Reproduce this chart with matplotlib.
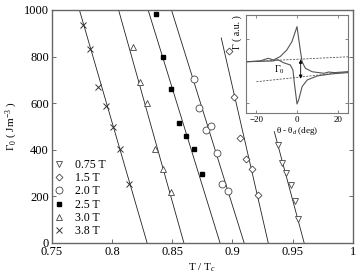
import matplotlib
matplotlib.use('Agg')
import matplotlib.pyplot as plt

plt.rcParams['font.family'] = 'Liberation Serif'
plt.rcParams['mathtext.fontset'] = 'custom'
plt.rcParams['mathtext.rm'] = 'Liberation Serif'
plt.rcParams['mathtext.it'] = 'Liberation Serif:italic'

# ---- data
fields = ['0.75 T', '1.5 T', '2.0 T', '2.5 T', '3.0 T', '3.8 T']
markers = ['v', 'D', 'o', 's', '^', 'x']
msizes = [4.2, 3.5, 5.0, 3.2, 4.2, 4.8]

t_075 = [0.9379, 0.9411, 0.9444, 0.9482, 0.9517, 0.9542]
g_075 = [421, 342, 299, 247, 180, 103]
t_15 = [0.8969, 0.9013, 0.9065, 0.9111, 0.9159, 0.9208]
g_15 = [825, 627, 451, 361, 316, 206]
t_20 = [0.8680, 0.8722, 0.8777, 0.8819, 0.8875, 0.8917, 0.8963]
g_20 = [704, 578, 483, 502, 388, 253, 223]
t_25 = [0.8367, 0.8425, 0.8492, 0.8555, 0.8617, 0.8680, 0.8747]
g_25 = [983, 797, 660, 517, 459, 402, 298]
t_30 = [0.8171, 0.8229, 0.8292, 0.8361, 0.8425, 0.8489]
g_30 = [840, 691, 602, 402, 319, 218]
t_38 = [0.7757, 0.7819, 0.7887, 0.7952, 0.8012, 0.8069, 0.8142]
g_38 = [936, 831, 670, 590, 497, 405, 252]

# fitted lines: T at the upper end, Gamma at the upper end, T where Gamma = 0
fit_t_top = [0.9347, 0.8907, 0.8494, 0.8300, 0.8055, 0.7730]
fit_g_top = [478, 880, 1000, 1000, 1000, 1000]
fit_t_zero = [0.9595, 0.9297, 0.9097, 0.8897, 0.8597, 0.8292]

# inset traces
up_x = [-24.8, -18.2, -14.1, -11.6, -8.3, -5.0, -2.5, 0.0, 1.6, 2.5, 4.1, 7.4, 13.2, 15.5, 18.2, 24.8]
up_y = [0.523, 0.531, 0.558, 0.541, 0.575, 0.643, 0.728, 0.881, 0.643, 0.523, 0.456, 0.421, 0.405, 0.418, 0.412, 0.421]
lo_x = [24.8, 16.5, 9.9, 5.0, 2.5, 0.8, 0.0, -1.3, -2.0, -3.3, -6.6, -9.5, -11.6, -24.8]
lo_y = [0.412, 0.398, 0.378, 0.337, 0.269, 0.133, 0.092, 0.303, 0.439, 0.490, 0.513, 0.545, 0.531, 0.523]
dash_hi_x = [-24.8, 25.6]
dash_hi_y = [0.523, 0.574]
dash_lo_x = [-19.9, 25.6]
dash_lo_y = [0.319, 0.421]

t_all = [t_075, t_15, t_20, t_25, t_30, t_38]
g_all = [g_075, g_15, g_20, g_25, g_30, g_38]

fig = plt.figure(figsize=(3.58, 2.76), dpi=100)
ax = fig.add_axes([0.1444, 0.1196, 0.8416, 0.8442])

for i in range(len(fields)):
    ax.plot([fit_t_top[i], fit_t_zero[i]], [fit_g_top[i], 0], color='#222222', lw=0.6)
    if markers[i] == 's':
        ax.plot(t_all[i], g_all[i], 's', ms=msizes[i], color='black', label=fields[i])
    elif markers[i] == 'x':
        ax.plot(t_all[i], g_all[i], 'x', ms=msizes[i], color='#333333', mew=0.7, label=fields[i])
    else:
        ax.plot(t_all[i], g_all[i], markers[i], ms=msizes[i], mfc='white',
                mec='#444444', mew=0.6, label=fields[i])

ax.set_xlim(0.75, 1.0)
ax.set_ylim(0, 1000)
ax.set_xticks([0.75, 0.8, 0.85, 0.9, 0.95, 1.0])
ax.set_xticklabels(['0.75', '0.8', '0.85', '0.9', '0.95', '1'])
ax.set_yticks([0, 200, 400, 600, 800, 1000])
ax.tick_params(direction='in', length=3, right=True, labelsize=9, pad=2,
               color='#555555', width=0.6)
for s in ax.spines.values():
    s.set_color('#666666')
    s.set_linewidth(1.0)
ax.set_xlabel('T / T$_c$', fontsize=8, labelpad=3)
ax.set_ylabel('Γ$_0$ ( Jm$^{-3}$ )', fontsize=8, labelpad=3)

ax.legend(loc='upper left', bbox_to_anchor=(0.008, 0.36), frameon=False,
          fontsize=8.5, handlelength=0.8, handletextpad=1.0, labelspacing=0.1,
          borderpad=0, borderaxespad=0)

# ---- inset
ins = fig.add_axes([0.6872, 0.5906, 0.2849, 0.3551])
ins.plot(up_x, up_y, color='#555555', lw=0.8)
ins.plot(lo_x, lo_y, color='#555555', lw=0.8)
ins.plot(dash_hi_x, dash_hi_y, '--', color='#555555', lw=0.6, dashes=(2.5, 1.5))
ins.plot(dash_lo_x, dash_lo_y, '--', color='#555555', lw=0.6, dashes=(2.5, 1.5))
ins.annotate('', xy=(1.8, 0.35), xytext=(1.8, 0.545),
             arrowprops=dict(arrowstyle='<|-|>', color='black', lw=0.6,
                             mutation_scale=5, shrinkA=0, shrinkB=0))
ins.text(-8.5, 0.44, 'Γ$_0$', fontsize=7, ha='center', va='center')
ins.set_xlim(-25, 25)
ins.set_ylim(0, 1)
ins.set_xticks([-20, 0, 20])
ins.set_yticks([0.1, 0.75])
ins.set_yticklabels([])
ins.tick_params(direction='in', length=2, top=True, right=True, labelsize=6.5, pad=2,
                color='#555555', width=0.5)
for s in ins.spines.values():
    s.set_color('#777777')
    s.set_linewidth(0.8)
ins.set_xlabel('θ - θ$_d$ (deg)', fontsize=6.5, labelpad=1)
ins.set_ylabel('Γ ( a.u. )', fontsize=7, loc='top', labelpad=1)

fig.savefig('out.png', dpi=100)
